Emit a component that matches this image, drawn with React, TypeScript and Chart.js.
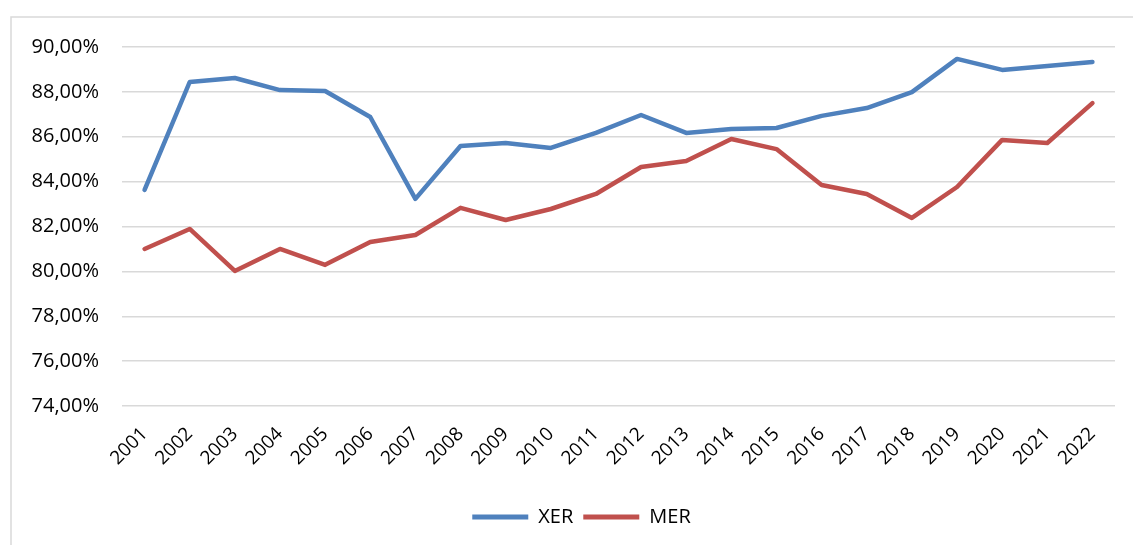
import React, { useEffect, useRef } from "react";
import { Chart, registerables } from "chart.js";

Chart.register(...registerables);

const years = ["2001","2002","2003","2004","2005","2006","2007","2008","2009","2010","2011","2012","2013","2014","2015","2016","2017","2018","2019","2020","2021","2022"];
const xer = [83.63,88.44,88.62,88.08,88.04,86.88,83.23,85.59,85.72,85.50,86.17,86.97,86.17,86.35,86.39,86.93,87.28,87.99,89.47,88.98,89.15,89.33];
const mer = [81.00,81.89,80.02,81.00,80.29,81.31,81.62,82.83,82.29,82.78,83.45,84.65,84.92,85.90,85.45,83.85,83.45,82.38,83.76,85.86,85.72,87.50];
const seriesNames = ["XER", "MER"];
const seriesColors = ["#4F81BD", "#C0504D"];

const FONT = "'Open Sans', sans-serif";

const frame = {
  id: "frame",
  afterLayout(chart: any) {
    const lg = chart.legend;
    if (lg) {
      lg.left += 24;
      lg.right += 24;
    }
  },
  beforeDraw(chart: any) {
    const ctx = chart.ctx;
    ctx.save();
    ctx.strokeStyle = "#d9d9d9";
    ctx.lineWidth = 1.5;
    ctx.beginPath();
    ctx.moveTo(11, chart.height + 5);
    ctx.lineTo(11, 17);
    ctx.lineTo(chart.width + 5, 17);
    ctx.stroke();
    ctx.restore();
  },
};

export default function App() {
  const ref = useRef<HTMLCanvasElement>(null);
  useEffect(() => {
    if (!ref.current) return;
    const chart = new Chart(ref.current, {
      type: "line",
      data: {
        labels: years,
        datasets: [
          { label: seriesNames[0], data: xer, borderColor: seriesColors[0], backgroundColor: seriesColors[0], borderWidth: 4.5, pointRadius: 0, tension: 0, borderCapStyle: "round", borderJoinStyle: "round" },
          { label: seriesNames[1], data: mer, borderColor: seriesColors[1], backgroundColor: seriesColors[1], borderWidth: 4.5, pointRadius: 0, tension: 0, borderCapStyle: "round", borderJoinStyle: "round" },
        ],
      },
      options: {
        animation: false,
        responsive: true,
        maintainAspectRatio: false,
        layout: { padding: { left: 0, top: 47, right: 18, bottom: 8 } },
        plugins: {
          tooltip: { enabled: false },
          legend: {
            position: "bottom",
            labels: {
              font: { family: FONT, size: 20 },
              color: "#000",
              boxWidth: 56,
              boxHeight: 5,
              padding: 10,
              generateLabels: (c: any) =>
                c.data.datasets.map((d: any, i: number) => ({
                  text: d.label,
                  fillStyle: d.borderColor,
                  strokeStyle: d.borderColor,
                  lineWidth: 0,
                  datasetIndex: i,
                  fontColor: "#000",
                })),
            },
          },
        },
        scales: {
          x: {
            offset: true,
            grid: { display: false, drawTicks: false },
            border: { display: false },
            ticks: {
              font: { family: FONT, size: 19 },
              color: "#000",
              minRotation: 45,
              maxRotation: 45,
              padding: 17,
              autoSkip: false,
            },
            afterFit: (s: any) => { s.height = 91; },
          },
          y: {
            min: 74,
            max: 90,
            grid: { color: "#d9d9d9", lineWidth: 1.5, drawTicks: false },
            border: { display: false },
            ticks: {
              stepSize: 2,
              font: { family: FONT, size: 20 },
              color: "#000",
              padding: 23,
              callback: (v: any) => Number(v).toFixed(2).replace(".", ",") + "%",
            },
            afterFit: (s: any) => { s.width = 122; },
          },
        },
      },
      plugins: [frame],
    } as any);
    return () => chart.destroy();
  }, []);
  return (
    <div style={{ position: "absolute", left: 0, top: 0, width: 1133, height: 545, background: "#fff" }}>
      <canvas ref={ref} />
    </div>
  );
}
